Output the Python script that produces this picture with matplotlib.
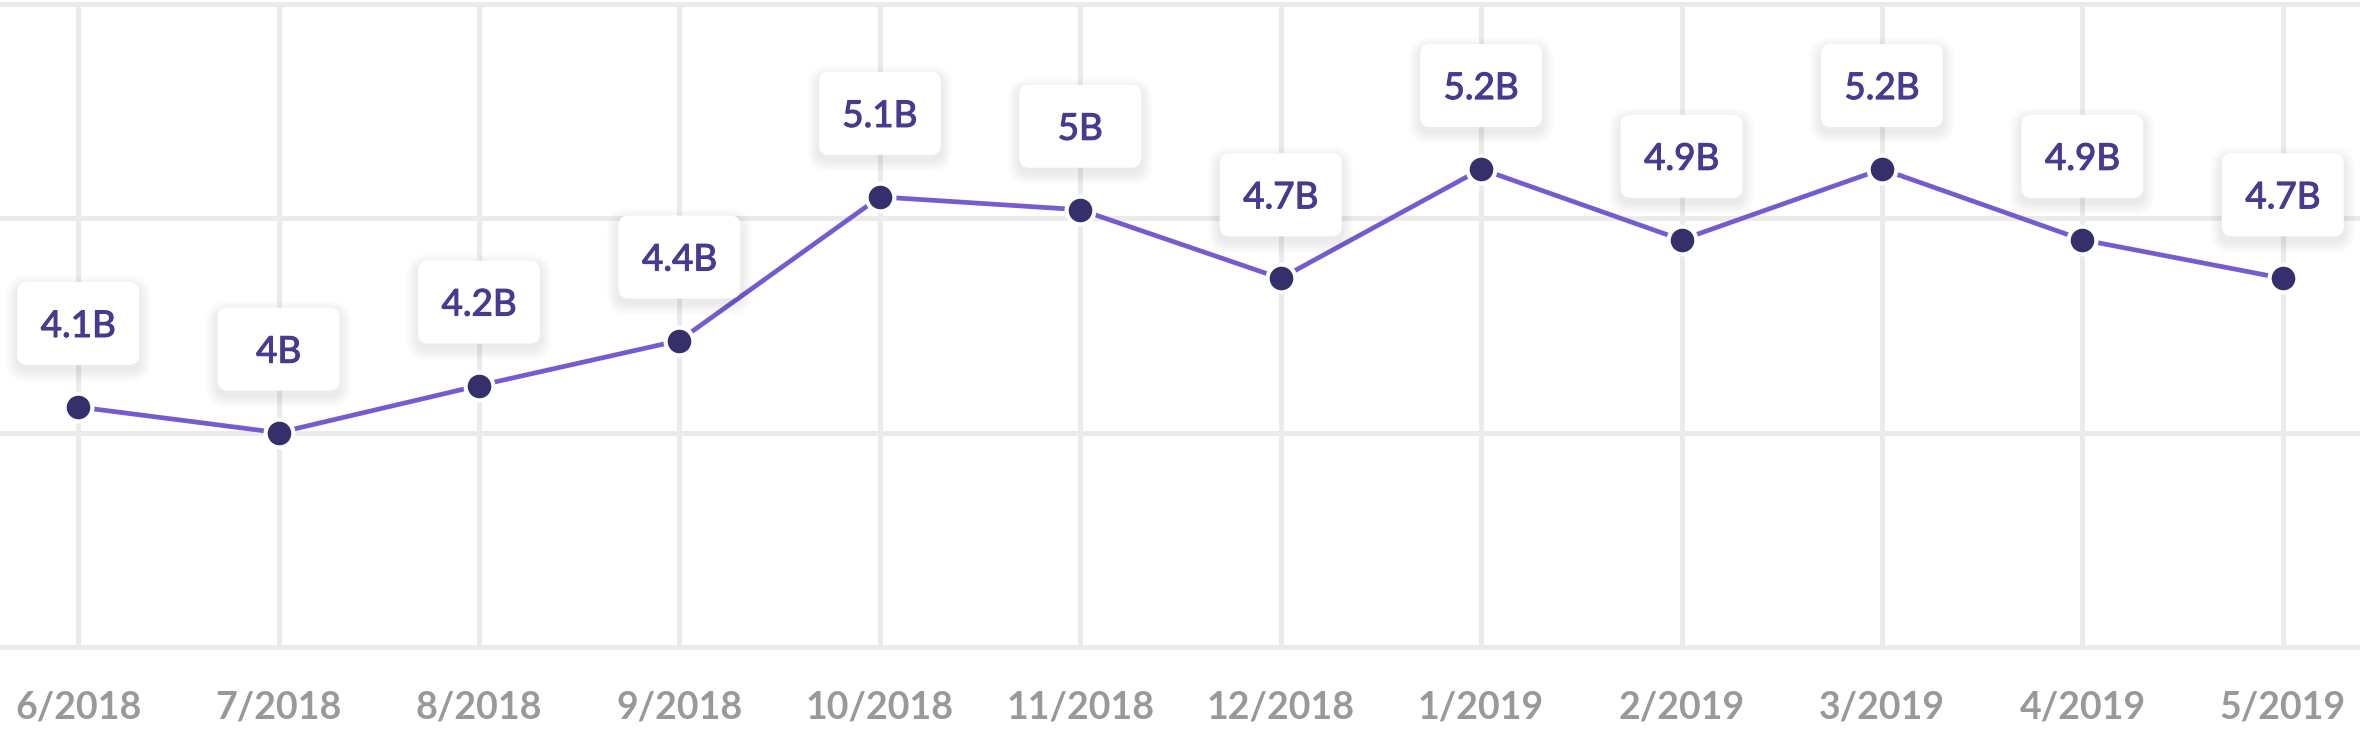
import matplotlib.pyplot as plt
import matplotlib.patheffects as pe
from matplotlib.patches import FancyBboxPatch
from matplotlib.transforms import ScaledTranslation

# monthly values, in billions
months = ["6/2018", "7/2018", "8/2018", "9/2018", "10/2018", "11/2018",
          "12/2018", "1/2019", "2/2019", "3/2019", "4/2019", "5/2019"]
views = [4.12, 4.00, 4.22, 4.43, 5.10, 5.04, 4.72, 5.23, 4.90, 5.23, 4.90, 4.72]
labels = ["4.1B", "4B", "4.2B", "4.4B", "5.1B", "5B",
          "4.7B", "5.2B", "4.9B", "5.2B", "4.9B", "4.7B"]
y_ticks = [3, 4, 5, 6]

LINE = '#765bd0'
NAVY = '#35306b'
TEXT = '#483a8f'
GRID = '#ebebeb'

fig = plt.figure(figsize=(23.6, 7.42), dpi=100, facecolor='white')
ax = fig.add_axes([0, 95 / 742, 1, 643 / 742])

x = list(range(len(months)))
ax.plot(x, views, color=LINE, lw=3.4, zorder=3, solid_capstyle='round')
ax.plot(x, views, 'o', ms=20, mfc=NAVY, mec='white', mew=3, zorder=4)

ax.set_xlim(-0.39, len(months) - 1 + 0.385)
ax.set_ylim(y_ticks[0], y_ticks[-1])
ax.set_xticks(x)
ax.set_xticklabels(months, fontsize=27, fontweight='bold', color='#999999', family='Lato')
ax.set_yticks(y_ticks)
ax.set_yticklabels([])
ax.tick_params(length=0, pad=31)
ax.grid(color=GRID, lw=3.6)
ax.set_axisbelow(True)
for s in ax.spines.values():
    s.set_visible(False)
for gl in ax.get_xgridlines() + ax.get_ygridlines():
    gl.set_clip_on(False)
    gl.set_solid_capstyle('round')

# value labels in white rounded boxes with a soft shadow
W, H, GAP, R = 1.22, 0.83, 0.42, 0.1
for i, lab in enumerate(labels):
    trans = fig.dpi_scale_trans + ScaledTranslation(x[i], views[i], ax.transData)
    for k in range(10):
        g = 0.012 * (k + 1)
        sh = FancyBboxPatch((-W / 2 - g, GAP - g - 0.05), W + 2 * g, H + 2 * g,
                            boxstyle=f"round,pad=0,rounding_size={R + g}",
                            transform=trans, fc='black', ec='none', alpha=0.007,
                            zorder=5, clip_on=False)
        ax.add_patch(sh)
    box = FancyBboxPatch((-W / 2, GAP), W, H, boxstyle=f"round,pad=0,rounding_size={R}",
                         transform=trans, fc='white', ec='none', zorder=6, clip_on=False)
    ax.add_patch(box)
    ax.text(0, 0.70, lab, transform=trans, ha='center', va='baseline', fontsize=26.5,
            color=TEXT, family='Lato', zorder=7,
            path_effects=[pe.withStroke(linewidth=0.8, foreground=TEXT)])

fig.savefig('out.png', dpi=100, facecolor='white')
